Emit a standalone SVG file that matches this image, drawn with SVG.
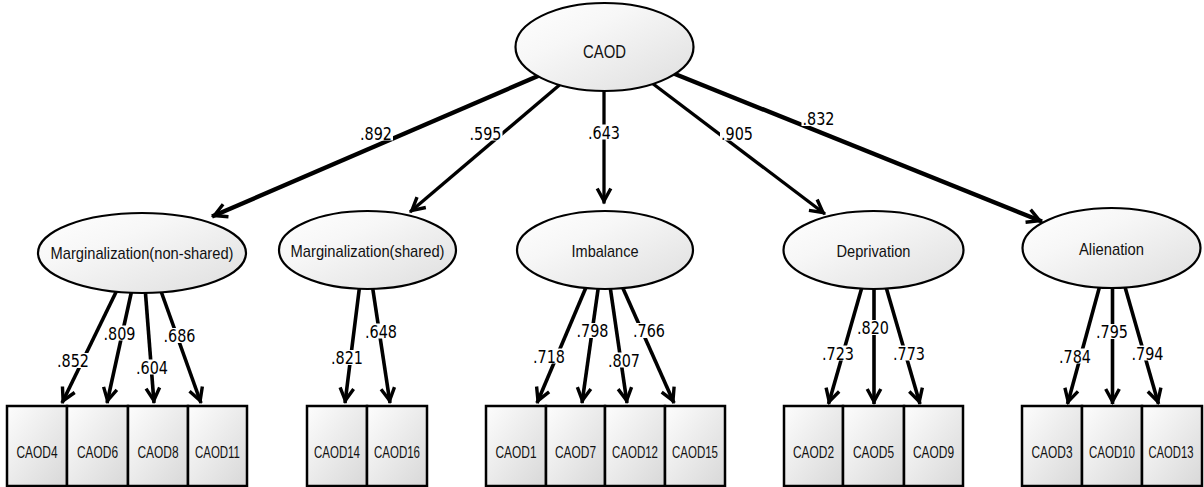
<svg xmlns="http://www.w3.org/2000/svg" width="1204" height="487" viewBox="0 0 1204 487">
  <style>
    .lat { stroke: #000; stroke-width: 2.2; fill: url(#gEll); }
    .obs { stroke: #000; stroke-width: 2.5; fill: url(#gBox); }
    .t18 { font-family: "Liberation Sans", Arial, sans-serif; font-size: 17px; fill: #111; text-anchor: middle; }
    .top { font-size: 18.5px; }
    .t14 { font-family: "Liberation Sans", Arial, sans-serif; font-size: 16px; fill: #111; text-anchor: middle; }
    .path1 { stroke: #000; fill: none; marker-end: url(#arr); }
    .thick { stroke-width: 4.4; }
    .mid { stroke-width: 3.3; }
    .low { stroke-width: 3.6; }
    .coef { font-family: "DejaVu Sans Condensed", "DejaVu Sans", sans-serif; font-stretch: condensed; font-size: 18.5px; fill: #000; text-anchor: middle; }
    .bg { fill: #fff; }
  </style>
  <defs>
    <linearGradient id="gEll" x1="0" y1="0" x2="1" y2="1">
      <stop offset="0" stop-color="#ffffff"/>
      <stop offset="0.35" stop-color="#f7f7f7"/>
      <stop offset="1" stop-color="#dedede"/>
    </linearGradient>
    <linearGradient id="gBox" x1="0" y1="0" x2="1" y2="1">
      <stop offset="0" stop-color="#fdfdfd"/>
      <stop offset="1" stop-color="#d8d8d8"/>
    </linearGradient>
    <marker id="arr" markerUnits="userSpaceOnUse" markerWidth="24" markerHeight="24" viewBox="-18 -12 24 24" refX="0" refY="0" orient="auto" overflow="visible">
      <path d="M-15,-6.8 L-2.5,0 L-15,6.8" fill="none" stroke="#000" stroke-width="3.4"/>
    </marker>
  </defs>

  <!-- paths and coefficients -->
  <g id="connectors">
    <line class="path1 thick" x1="545" y1="73" x2="212" y2="216.5"/>
    <line class="path1 mid" x1="563" y1="82" x2="410" y2="212"/>
    <line class="path1 mid" x1="604" y1="86" x2="604" y2="203.5"/>
    <line class="path1 mid" x1="648" y1="80" x2="825" y2="214"/>
    <line class="path1 thick" x1="670" y1="72" x2="1042" y2="221.5"/>

    <line class="path1 low" x1="118.5" y1="287" x2="62" y2="403"/>
    <line class="path1 low" x1="132.5" y1="287" x2="107" y2="403"/>
    <line class="path1 low" x1="145" y1="287" x2="154" y2="403"/>
    <line class="path1 low" x1="159.5" y1="287" x2="201" y2="403"/>

    <line class="path1 low" x1="359.5" y1="287" x2="345" y2="403"/>
    <line class="path1 low" x1="372.5" y1="287" x2="390" y2="403"/>

    <line class="path1 low" x1="587" y1="285" x2="537" y2="403"/>
    <line class="path1 low" x1="598.5" y1="286" x2="582" y2="403"/>
    <line class="path1 low" x1="610" y1="286" x2="627" y2="403"/>
    <line class="path1 low" x1="621.5" y1="285" x2="674" y2="403"/>

    <line class="path1 low" x1="862" y1="287" x2="828.5" y2="404"/>
    <line class="path1 low" x1="874" y1="287" x2="874" y2="404"/>
    <line class="path1 low" x1="886" y1="287" x2="920" y2="404"/>

    <line class="path1 low" x1="1099.5" y1="287" x2="1067.5" y2="404"/>
    <line class="path1 low" x1="1112.5" y1="287" x2="1112.5" y2="404"/>
    <line class="path1 low" x1="1125" y1="287" x2="1158.5" y2="404"/>

    <g id="coefficients">
      <rect class="bg" x="359" y="125.5" width="34" height="15"/><text class="coef" x="376" y="139.5" textLength="32" lengthAdjust="spacingAndGlyphs">.892</text>
      <rect class="bg" x="468.5" y="125.5" width="34" height="15"/><text class="coef" x="485.5" y="139.5" textLength="32" lengthAdjust="spacingAndGlyphs">.595</text>
      <rect class="bg" x="587" y="124.5" width="34" height="15"/><text class="coef" x="604" y="138.5" textLength="32" lengthAdjust="spacingAndGlyphs">.643</text>
      <rect class="bg" x="720" y="125.5" width="34" height="15"/><text class="coef" x="737" y="139.5" textLength="32" lengthAdjust="spacingAndGlyphs">.905</text>
      <rect class="bg" x="801.5" y="111" width="34" height="15"/><text class="coef" x="818.5" y="125" textLength="32" lengthAdjust="spacingAndGlyphs">.832</text>

      <rect class="bg" x="56" y="353" width="34" height="15"/><text class="coef" x="73" y="367" textLength="32" lengthAdjust="spacingAndGlyphs">.852</text>
      <rect class="bg" x="102.5" y="325.5" width="34" height="15"/><text class="coef" x="119.5" y="339.5" textLength="32" lengthAdjust="spacingAndGlyphs">.809</text>
      <rect class="bg" x="135" y="359.5" width="34" height="15"/><text class="coef" x="152" y="373.5" textLength="32" lengthAdjust="spacingAndGlyphs">.604</text>
      <rect class="bg" x="162.5" y="328" width="34" height="15"/><text class="coef" x="179.5" y="342" textLength="32" lengthAdjust="spacingAndGlyphs">.686</text>

      <rect class="bg" x="330" y="350" width="34" height="15"/><text class="coef" x="347" y="364" textLength="32" lengthAdjust="spacingAndGlyphs">.821</text>
      <rect class="bg" x="364" y="323.5" width="34" height="15"/><text class="coef" x="381" y="337.5" textLength="32" lengthAdjust="spacingAndGlyphs">.648</text>

      <rect class="bg" x="532" y="348.5" width="34" height="15"/><text class="coef" x="549" y="362.5" textLength="32" lengthAdjust="spacingAndGlyphs">.718</text>
      <rect class="bg" x="575.5" y="323" width="34" height="15"/><text class="coef" x="592.5" y="337" textLength="32" lengthAdjust="spacingAndGlyphs">.798</text>
      <rect class="bg" x="607" y="352.5" width="34" height="15"/><text class="coef" x="624" y="366.5" textLength="32" lengthAdjust="spacingAndGlyphs">.807</text>
      <rect class="bg" x="632" y="323" width="34" height="15"/><text class="coef" x="649" y="337" textLength="32" lengthAdjust="spacingAndGlyphs">.766</text>

      <rect class="bg" x="821" y="345.5" width="34" height="15"/><text class="coef" x="838" y="359.5" textLength="32" lengthAdjust="spacingAndGlyphs">.723</text>
      <rect class="bg" x="856" y="320" width="34" height="15"/><text class="coef" x="873" y="334" textLength="32" lengthAdjust="spacingAndGlyphs">.820</text>
      <rect class="bg" x="892" y="345.5" width="34" height="15"/><text class="coef" x="909" y="359.5" textLength="32" lengthAdjust="spacingAndGlyphs">.773</text>

      <rect class="bg" x="1058" y="348.5" width="34" height="15"/><text class="coef" x="1075" y="362.5" textLength="32" lengthAdjust="spacingAndGlyphs">.784</text>
      <rect class="bg" x="1095" y="324" width="34" height="15"/><text class="coef" x="1112" y="338" textLength="32" lengthAdjust="spacingAndGlyphs">.795</text>
      <rect class="bg" x="1130.5" y="345.5" width="34" height="15"/><text class="coef" x="1147.5" y="359.5" textLength="32" lengthAdjust="spacingAndGlyphs">.794</text>
    </g>
  </g>

  <!-- latent variables -->
  <g id="CAOD">
    <ellipse class="lat" cx="604.5" cy="47" rx="89" ry="44"/>
    <text class="t18 top" x="604.5" y="58" textLength="43" lengthAdjust="spacingAndGlyphs">CAOD</text>
  </g>
  <g id="MarginalizationNonShared">
    <ellipse class="lat" cx="142" cy="253" rx="104" ry="40"/>
    <text class="t18" x="142" y="259" textLength="183" lengthAdjust="spacingAndGlyphs">Marginalization(non-shared)</text>
  </g>
  <g id="MarginalizationShared">
    <ellipse class="lat" cx="367.5" cy="250" rx="88.5" ry="39"/>
    <text class="t18" x="367.5" y="256.5" textLength="154" lengthAdjust="spacingAndGlyphs">Marginalization(shared)</text>
  </g>
  <g id="Imbalance">
    <ellipse class="lat" cx="605" cy="250" rx="88" ry="39"/>
    <text class="t18" x="605" y="257" textLength="67" lengthAdjust="spacingAndGlyphs">Imbalance</text>
  </g>
  <g id="Deprivation">
    <ellipse class="lat" cx="873.5" cy="250" rx="90" ry="39"/>
    <text class="t18" x="873.5" y="256.5" textLength="74" lengthAdjust="spacingAndGlyphs">Deprivation</text>
  </g>
  <g id="Alienation">
    <ellipse class="lat" cx="1111.5" cy="248" rx="89" ry="40"/>
    <text class="t18" x="1111.5" y="255" textLength="65" lengthAdjust="spacingAndGlyphs">Alienation</text>
  </g>

  <!-- observed items -->
  <g id="CAOD4"><rect class="obs" x="7" y="406" width="60" height="80"/><text class="t14" x="37" y="458" textLength="41" lengthAdjust="spacingAndGlyphs">CAOD4</text></g>
  <g id="CAOD6"><rect class="obs" x="67" y="406" width="61" height="80"/><text class="t14" x="97.5" y="458" textLength="41" lengthAdjust="spacingAndGlyphs">CAOD6</text></g>
  <g id="CAOD8"><rect class="obs" x="128" y="406" width="60" height="80"/><text class="t14" x="158" y="458" textLength="41" lengthAdjust="spacingAndGlyphs">CAOD8</text></g>
  <g id="CAOD11"><rect class="obs" x="188" y="406" width="59" height="80"/><text class="t14" x="217.5" y="458" textLength="45" lengthAdjust="spacingAndGlyphs">CAOD11</text></g>

  <g id="CAOD14"><rect class="obs" x="307" y="406" width="60" height="80"/><text class="t14" x="337" y="458" textLength="46" lengthAdjust="spacingAndGlyphs">CAOD14</text></g>
  <g id="CAOD16"><rect class="obs" x="367" y="406" width="60" height="80"/><text class="t14" x="397" y="458" textLength="46" lengthAdjust="spacingAndGlyphs">CAOD16</text></g>

  <g id="CAOD1"><rect class="obs" x="486" y="406" width="60" height="80"/><text class="t14" x="516" y="458" textLength="41" lengthAdjust="spacingAndGlyphs">CAOD1</text></g>
  <g id="CAOD7"><rect class="obs" x="546" y="406" width="59" height="80"/><text class="t14" x="575.5" y="458" textLength="41" lengthAdjust="spacingAndGlyphs">CAOD7</text></g>
  <g id="CAOD12"><rect class="obs" x="605" y="406" width="60" height="80"/><text class="t14" x="635" y="458" textLength="46" lengthAdjust="spacingAndGlyphs">CAOD12</text></g>
  <g id="CAOD15"><rect class="obs" x="665" y="406" width="60" height="80"/><text class="t14" x="695" y="458" textLength="46" lengthAdjust="spacingAndGlyphs">CAOD15</text></g>

  <g id="CAOD2"><rect class="obs" x="784" y="406" width="59" height="80"/><text class="t14" x="813.5" y="458" textLength="41" lengthAdjust="spacingAndGlyphs">CAOD2</text></g>
  <g id="CAOD5"><rect class="obs" x="843" y="406" width="61" height="80"/><text class="t14" x="873.5" y="458" textLength="41" lengthAdjust="spacingAndGlyphs">CAOD5</text></g>
  <g id="CAOD9"><rect class="obs" x="904" y="406" width="59" height="80"/><text class="t14" x="933.5" y="458" textLength="41" lengthAdjust="spacingAndGlyphs">CAOD9</text></g>

  <g id="CAOD3"><rect class="obs" x="1022" y="406" width="60" height="80"/><text class="t14" x="1052" y="458" textLength="41" lengthAdjust="spacingAndGlyphs">CAOD3</text></g>
  <g id="CAOD10"><rect class="obs" x="1082" y="406" width="60" height="80"/><text class="t14" x="1112" y="458" textLength="46" lengthAdjust="spacingAndGlyphs">CAOD10</text></g>
  <g id="CAOD13"><rect class="obs" x="1142" y="406" width="60" height="80"/><text class="t14" x="1171" y="458" textLength="45" lengthAdjust="spacingAndGlyphs">CAOD13</text></g>
</svg>
